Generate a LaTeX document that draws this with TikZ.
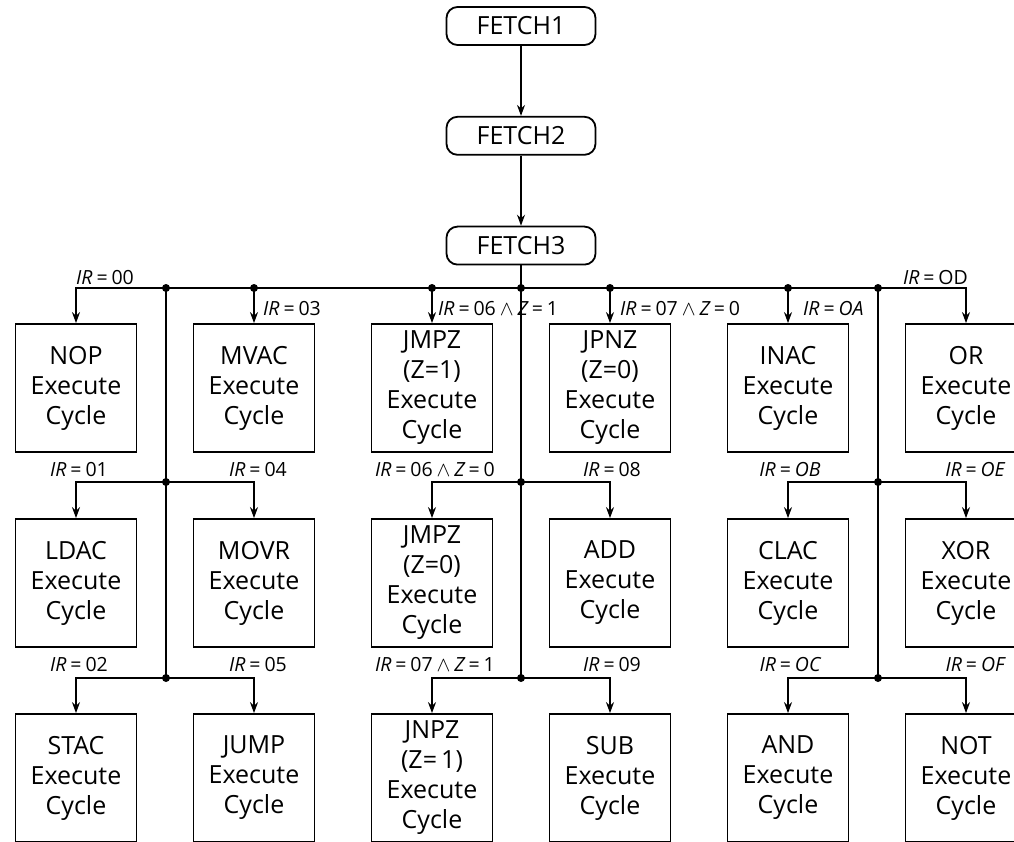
\documentclass[tikz,border=0pt]{standalone}
\usepackage{fontspec}
\setmainfont{Open Sans}
\usetikzlibrary{arrows.meta,positioning}
\newcommand{\IR}{{\itshape IR}}
\newcommand{\eqs}{\hspace{0.2em}=\hspace{0.2em}}
\newcommand{\andz}{\hspace{0.2em}$\wedge$\hspace{0.2em}{\itshape Z}}

\begin{document}
\begin{tikzpicture}[x=1pt, y=-1pt,
  node distance=70pt,
  box/.style={draw, line width=1.8pt, align=center, inner sep=0pt,
              font=\fontsize{25}{30}\selectfont,
              minimum width=121pt, minimum height=128pt},
  fetch/.style={draw, line width=1.8pt, rounded corners=11pt, inner sep=0pt,
              font=\fontsize{25}{28}\selectfont,
              minimum width=149pt, minimum height=38pt},
  wire/.style={line width=1.5pt},
  arr/.style={wire, -{Stealth[length=11pt,width=8pt]}},
  cond/.style={inner sep=0pt, font=\fontsize{19.5}{19.5}\selectfont}]
\path[use as bounding box, clip] (0,0) rectangle (1014,842);
% fetch cycle
\node[fetch] (f1) at (521,26) {FETCH1};
\node[fetch, below=of f1] (f2) {FETCH2};
\node[fetch, below=of f2] (f3) {FETCH3};
\draw[arr] (f1) -- (f2);
\draw[arr] (f2) -- (f3);
% execute cycles
\node[box] (nop)  at (76,388)  {NOP\\Execute\\Cycle};
\node[box] (mvac) at (254,388) {MVAC\\Execute\\Cycle};
\node[box] (jmpz) at (432,388) {JMPZ\\(Z=1)\\Execute\\Cycle};
\node[box] (jpnz) at (610,388) {JPNZ\\(Z=0)\\Execute\\Cycle};
\node[box] (inac) at (788,388) {INAC\\Execute\\Cycle};
\node[box] (or)   at (966,388) {OR\\Execute\\Cycle};
\node[box] (ldac) at (76,583)  {LDAC\\Execute\\Cycle};
\node[box] (movr) at (254,583) {MOVR\\Execute\\Cycle};
\node[box] (jmpy) at (432,583) {JMPZ\\(Z=0)\\Execute\\Cycle};
\node[box] (add)  at (610,583) {ADD\\Execute\\Cycle};
\node[box] (clac) at (788,583) {CLAC\\Execute\\Cycle};
\node[box] (xor)  at (966,583) {XOR\\Execute\\Cycle};
\node[box] (stac) at (76,778)  {STAC\\Execute\\Cycle};
\node[box] (jump) at (254,778) {JUMP\\Execute\\Cycle};
\node[box] (jnpz) at (432,778) {JNPZ\\(Z=\,1)\\Execute\\Cycle};
\node[box] (sub)  at (610,778) {SUB\\Execute\\Cycle};
\node[box] (and)  at (788,778) {AND\\Execute\\Cycle};
\node[box] (not)  at (966,778) {NOT\\Execute\\Cycle};
% branch points
\coordinate (top) at (521,288);
\coordinate (l1) at (166,288); \coordinate (l2) at (166,482); \coordinate (l3) at (166,678);
\coordinate (c2) at (521,482); \coordinate (c3) at (521,678);
\coordinate (r1) at (878,288); \coordinate (r2) at (878,482); \coordinate (r3) at (878,678);
\draw[wire] (f3) -- (top) -- (c3);
\draw[wire] (l1) -- (l3);
\draw[wire] (r1) -- (r3);
\foreach \b in {nop,mvac,jmpz,jpnz,inac,or}
  \draw[arr] (top) -| (\b);
\foreach \p/\a/\b in {l2/ldac/movr,c2/jmpy/add,r2/clac/xor,l3/stac/jump,c3/jnpz/sub,r3/and/not}
  {\draw[arr] (\p) -| (\a); \draw[arr] (\p) -| (\b);}
\foreach \p in {l1,top,r1,l2,c2,r2,l3,c3,r3}
  \fill (\p) circle (4pt);
\foreach \b in {mvac,jmpz,jpnz,inac}
  \fill (\b |- top) circle (4pt);
% conditions
\node[cond, anchor=base west] (ir00) at (76,284) {\IR\eqs00};
\node[cond, anchor=base west] (ir03) at (263,315) {\IR\eqs03};
\node[cond, anchor=base west] (ir06a) at (438,315) {\IR\eqs06\andz\eqs1};
\node[cond, anchor=base west] (ir07a) at (620,315) {\IR\eqs07\andz\eqs0};
\node[cond, anchor=base west] (ir0a) at (803,315) {\IR\eqs{\itshape OA}};
\node[cond, anchor=base east] (ir0d) at (968,284) {\IR\eqs OD};
\node[cond, anchor=base] (ir01) at (79,476) {\IR\eqs01};
\node[cond, anchor=base] (ir04) at (258,476) {\IR\eqs04};
\node[cond, anchor=base] (ir06b) at (435,476) {\IR\eqs06\andz\eqs0};
\node[cond, anchor=base] (ir08) at (612,476) {\IR\eqs08};
\node[cond, anchor=base] (ir0b) at (790,476) {\IR\eqs{\itshape OB}};
\node[cond, anchor=base] (ir0e) at (975,476) {\IR\eqs{\itshape OE}};
\node[cond, anchor=base] (ir02) at (79,671) {\IR\eqs02};
\node[cond, anchor=base] (ir05) at (258,671) {\IR\eqs05};
\node[cond, anchor=base] (ir07b) at (435,671) {\IR\eqs07\andz\eqs1};
\node[cond, anchor=base] (ir09) at (612,671) {\IR\eqs09};
\node[cond, anchor=base] (ir0c) at (790,671) {\IR\eqs{\itshape OC}};
\node[cond, anchor=base] (ir0f) at (975,671) {\IR\eqs{\itshape OF}};
\end{tikzpicture}
\end{document}
